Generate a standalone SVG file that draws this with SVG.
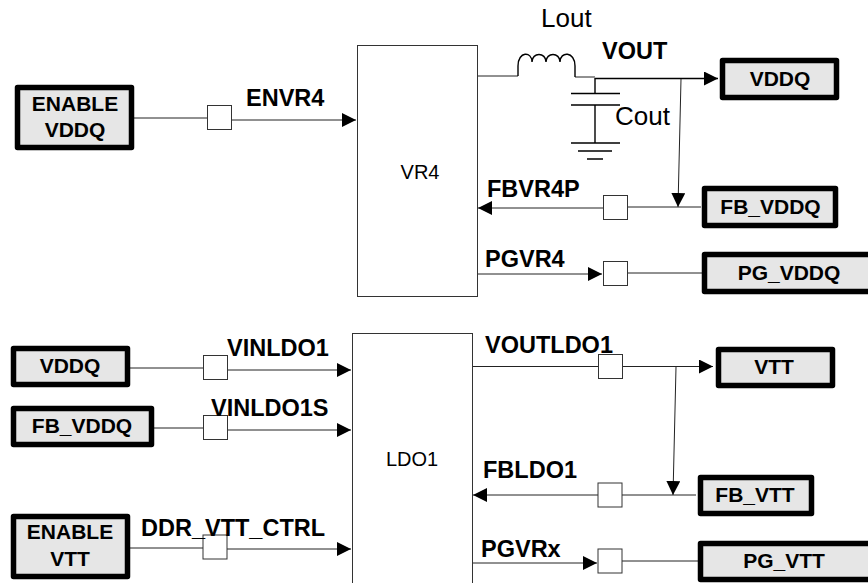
<svg xmlns="http://www.w3.org/2000/svg" width="868" height="583" viewBox="0 0 868 583">
<style>
text{font-family:"Liberation Sans",Arial,sans-serif;fill:#000}
.b{font-weight:bold;font-size:23.5px}
.n{font-weight:bold;font-size:21px;text-anchor:middle}
.r{font-size:20px;text-anchor:middle}
.t{font-size:26px}
.box{fill:#e6e6e6;stroke:#000;stroke-width:5.5;stroke-linejoin:round}
.blk{fill:#fff;stroke:#333;stroke-width:1}
.sq{fill:#fff;stroke:#333;stroke-width:1}
.w{fill:none;stroke:#222;stroke-width:1}
.k{fill:none;stroke:#000;stroke-width:1.4}
</style>
<defs>
<marker id="a" markerUnits="userSpaceOnUse" markerWidth="15" markerHeight="15" refX="14" refY="7" orient="auto"><path d="M0 0L14 7L0 14Z" fill="#000"/></marker>
</defs>
<g id="connectors">
<path class="w" d="M134 118H207"/><path class="w" d="M231 120H356" marker-end="url(#a)"/>
<path class="w" d="M477 76H518M575 77H595"/>
<path class="k" d="M518 76V66C518 51 532 51 532 62C532 52 546 52 546 62C546 52 560 52 560 62C560 51 575 51 575 66V77"/>
<path class="k" d="M595 78.500H718" marker-end="url(#a)"/>
<path class="k" d="M595 78V93M571 93.500H620M571 105H620M595 105V143M571 143H620M578 151H612M587 159H603"/>
<path class="w" d="M681 79L678 207" marker-end="url(#a)"/>
<path class="w" d="M701 207H627"/><path class="w" d="M603 208H478" marker-end="url(#a)"/>
<path class="w" d="M477 274H602" marker-end="url(#a)"/><path class="w" d="M627 273H702"/>
<path class="w" d="M130 368H203"/><path class="w" d="M227 370H351" marker-end="url(#a)"/>
<path class="w" d="M154 428H203"/><path class="w" d="M227 430H351" marker-end="url(#a)"/>
<path class="w" d="M130 548H203"/><path class="w" d="M227 549H351" marker-end="url(#a)"/>
<path class="w" d="M472 366.500H598"/><path class="w" d="M623 366.500H713" marker-end="url(#a)"/>
<path class="w" d="M676 367L673 495" marker-end="url(#a)"/>
<path class="w" d="M696 495H622"/><path class="w" d="M598 495H473" marker-end="url(#a)"/>
<path class="w" d="M472 563H597" marker-end="url(#a)"/><path class="w" d="M622 561H698"/>
</g>
<g id="node-enable-vddq"><rect class="box" x="17.500" y="87.500" width="114" height="60"/><text class="n" x="75" y="111">ENABLE</text><text class="n" x="75" y="137">VDDQ</text></g>
<g id="node-vr4"><rect class="blk" x="357.500" y="45.500" width="120" height="251"/><text class="r" x="420" y="179">VR4</text></g>
<g id="node-ldo1"><rect class="blk" x="352.500" y="333.500" width="120" height="260"/><text class="r" x="412" y="466">LDO1</text></g>
<g id="node-vddq-out"><rect class="box" x="722.500" y="60.500" width="114" height="37"/><text class="n" x="780" y="86">VDDQ</text></g>
<g id="node-fb-vddq-out"><rect class="box" x="704.500" y="188.500" width="131" height="37"/><text class="n" x="770.500" y="214">FB_VDDQ</text></g>
<g id="node-pg-vddq"><rect class="box" x="704.500" y="254.500" width="170" height="37"/><text class="n" x="789" y="280">PG_VDDQ</text></g>
<g id="node-vddq-in"><rect class="box" x="13.500" y="348.500" width="114" height="36"/><text class="n" x="70" y="373">VDDQ</text></g>
<g id="node-fb-vddq-in"><rect class="box" x="13.500" y="408.500" width="138" height="36"/><text class="n" x="82" y="433">FB_VDDQ</text></g>
<g id="node-enable-vtt"><rect class="box" x="13.500" y="516.500" width="114" height="60"/><text class="n" x="70" y="539">ENABLE</text><text class="n" x="70" y="566">VTT</text></g>
<g id="node-vtt"><rect class="box" x="718.500" y="349.500" width="114" height="36"/><text class="n" x="774" y="374">VTT</text></g>
<g id="node-fb-vtt"><rect class="box" x="700.500" y="477.500" width="111" height="36"/><text class="n" x="755" y="502">FB_VTT</text></g>
<g id="node-pg-vtt"><rect class="box" x="700.500" y="543.500" width="175" height="36"/><text class="n" x="784" y="568">PG_VTT</text></g>
<g id="junctions">
<rect class="sq" x="207.500" y="105.500" width="24" height="24"/>
<rect class="sq" x="603.500" y="195.500" width="24" height="24"/>
<rect class="sq" x="603.500" y="261.500" width="24" height="24"/>
<rect class="sq" x="203.500" y="355.500" width="24" height="24"/>
<rect class="sq" x="203.500" y="415.500" width="24" height="24"/>
<rect class="sq" x="203" y="535" width="24" height="24"/>
<rect class="sq" x="598.500" y="354.500" width="24" height="24"/>
<rect class="sq" x="598" y="483" width="24" height="24"/>
<rect class="sq" x="598" y="549" width="24" height="24"/>
</g>
<g id="labels">
<text class="t" x="541" y="27">Lout</text>
<text class="t" x="615" y="125">Cout</text>
<text class="b" x="602" y="59">VOUT</text>
<text class="b" x="246" y="106">ENVR4</text>
<text class="b" x="487" y="197">FBVR4P</text>
<text class="b" x="485" y="267">PGVR4</text>
<text class="b" x="227" y="356">VINLDO1</text>
<text class="b" x="211" y="416">VINLDO1S</text>
<text class="b" x="141" y="536">DDR_VTT_CTRL</text>
<text class="b" x="485" y="353">VOUTLDO1</text>
<text class="b" x="483" y="478">FBLDO1</text>
<text class="b" x="481" y="557">PGVRx</text>
</g>
</svg>
